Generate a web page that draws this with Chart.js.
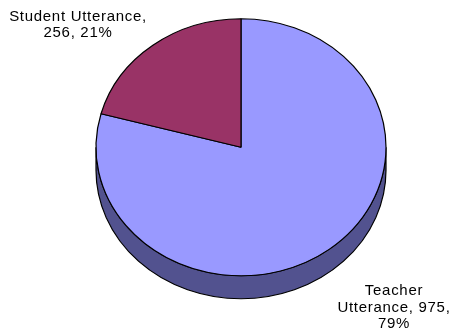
<!DOCTYPE html>
<html>
<head>
<meta charset="utf-8">
<script src="https://cdn.jsdelivr.net/npm/chart.js@4"></script>
<style>
  html, body { margin: 0; padding: 0; background: #fff; }
  #wrap { width: 454px; height: 334px; }
</style>
</head>
<body>
<div id="wrap"><canvas id="pie"></canvas></div>
<script>
// data
const categories = ['Teacher Utterance', 'Student Utterance'];
const values = [975, 256];
const colors = ['#9999FF', '#993366'];
const sideColors = ['#52528F', '#5C1F3D'];

// ellipse (3d look) on screen
const pieCx = 241, pieCy = 147.3, pieRx = 145, pieRy = 128.5, pieDepth = 23;

// label spots: center x, first baseline, wrap width
const labelSpots = [
  { x: 394, y: 295, wrap: 125 },
  { x: 78, y: 20.5, wrap: 150 }
];

const total = values.reduce((a, b) => a + b, 0);

function wrapText(ctx, text, maxW) {
  const words = text.split(' ');
  const lines = [];
  let cur = '';
  words.forEach(w => {
    const t = cur ? cur + ' ' + w : w;
    if (cur && ctx.measureText(t).width > maxW) {
      lines.push(cur);
      cur = w;
    } else {
      cur = t;
    }
  });
  if (cur) lines.push(cur);
  return lines;
}

// squash the pie into an ellipse and add the side
const tiltPlugin = {
  id: 'tilt',
  beforeDatasetsDraw(chart) {
    const ctx = chart.ctx;
    const arcs = chart.getDatasetMeta(0).data;
    if (!arcs.length) return;
    const a = arcs[0];
    const sx = pieRx / a.outerRadius, sy = pieRy / a.outerRadius;
    ctx.save();
    ctx.translate(pieCx, pieCy);
    ctx.scale(sx, sy);
    ctx.translate(-a.x, -a.y);
    const d = pieDepth / sy;

    // side wall, only the front half shows
    arcs.forEach((arc, i) => {
      [0, 2 * Math.PI].forEach(shift => {
        const a0 = Math.max(arc.startAngle, shift);
        const a1 = Math.min(arc.endAngle, shift + Math.PI);
        if (a1 <= a0) return;
        ctx.beginPath();
        ctx.arc(arc.x, arc.y + d, arc.outerRadius, a0, a1);
        ctx.arc(arc.x, arc.y, arc.outerRadius, a1, a0, true);
        ctx.closePath();
        ctx.fillStyle = sideColors[i];
        ctx.fill();
        ctx.lineWidth = 1.2;
        ctx.strokeStyle = '#000';
        ctx.stroke();
      });
    });
  },
  afterDatasetsDraw(chart) {
    chart.ctx.restore();
  },
  afterDraw(chart) {
    const ctx = chart.ctx;
    ctx.save();
    ctx.font = '15px "Liberation Sans", Arial, sans-serif';
    ctx.letterSpacing = '0.7px';
    ctx.fillStyle = '#000';
    ctx.textAlign = 'center';
    ctx.textBaseline = 'alphabetic';
    categories.forEach((c, i) => {
      const pct = Math.round(values[i] / total * 100);
      const txt = c + ', ' + values[i] + ', ' + pct + '%';
      const spot = labelSpots[i];
      const lines = wrapText(ctx, txt, spot.wrap);
      lines.forEach((ln, k) => {
        ctx.fillText(ln, spot.x, spot.y + k * 16.6);
      });
    });
    ctx.restore();
  }
};

new Chart(document.getElementById('pie'), {
  type: 'pie',
  data: {
    labels: categories,
    datasets: [{
      data: values,
      backgroundColor: colors,
      borderColor: '#000',
      borderWidth: 1.2,
      clip: false
    }]
  },
  options: {
    responsive: true,
    maintainAspectRatio: false,
    animation: false,
    events: [],
    layout: { padding: { top: 20, bottom: 23, left: 81, right: 82 } },
    plugins: {
      legend: { display: false },
      tooltip: { enabled: false }
    }
  },
  plugins: [tiltPlugin]
});
</script>
</body>
</html>
